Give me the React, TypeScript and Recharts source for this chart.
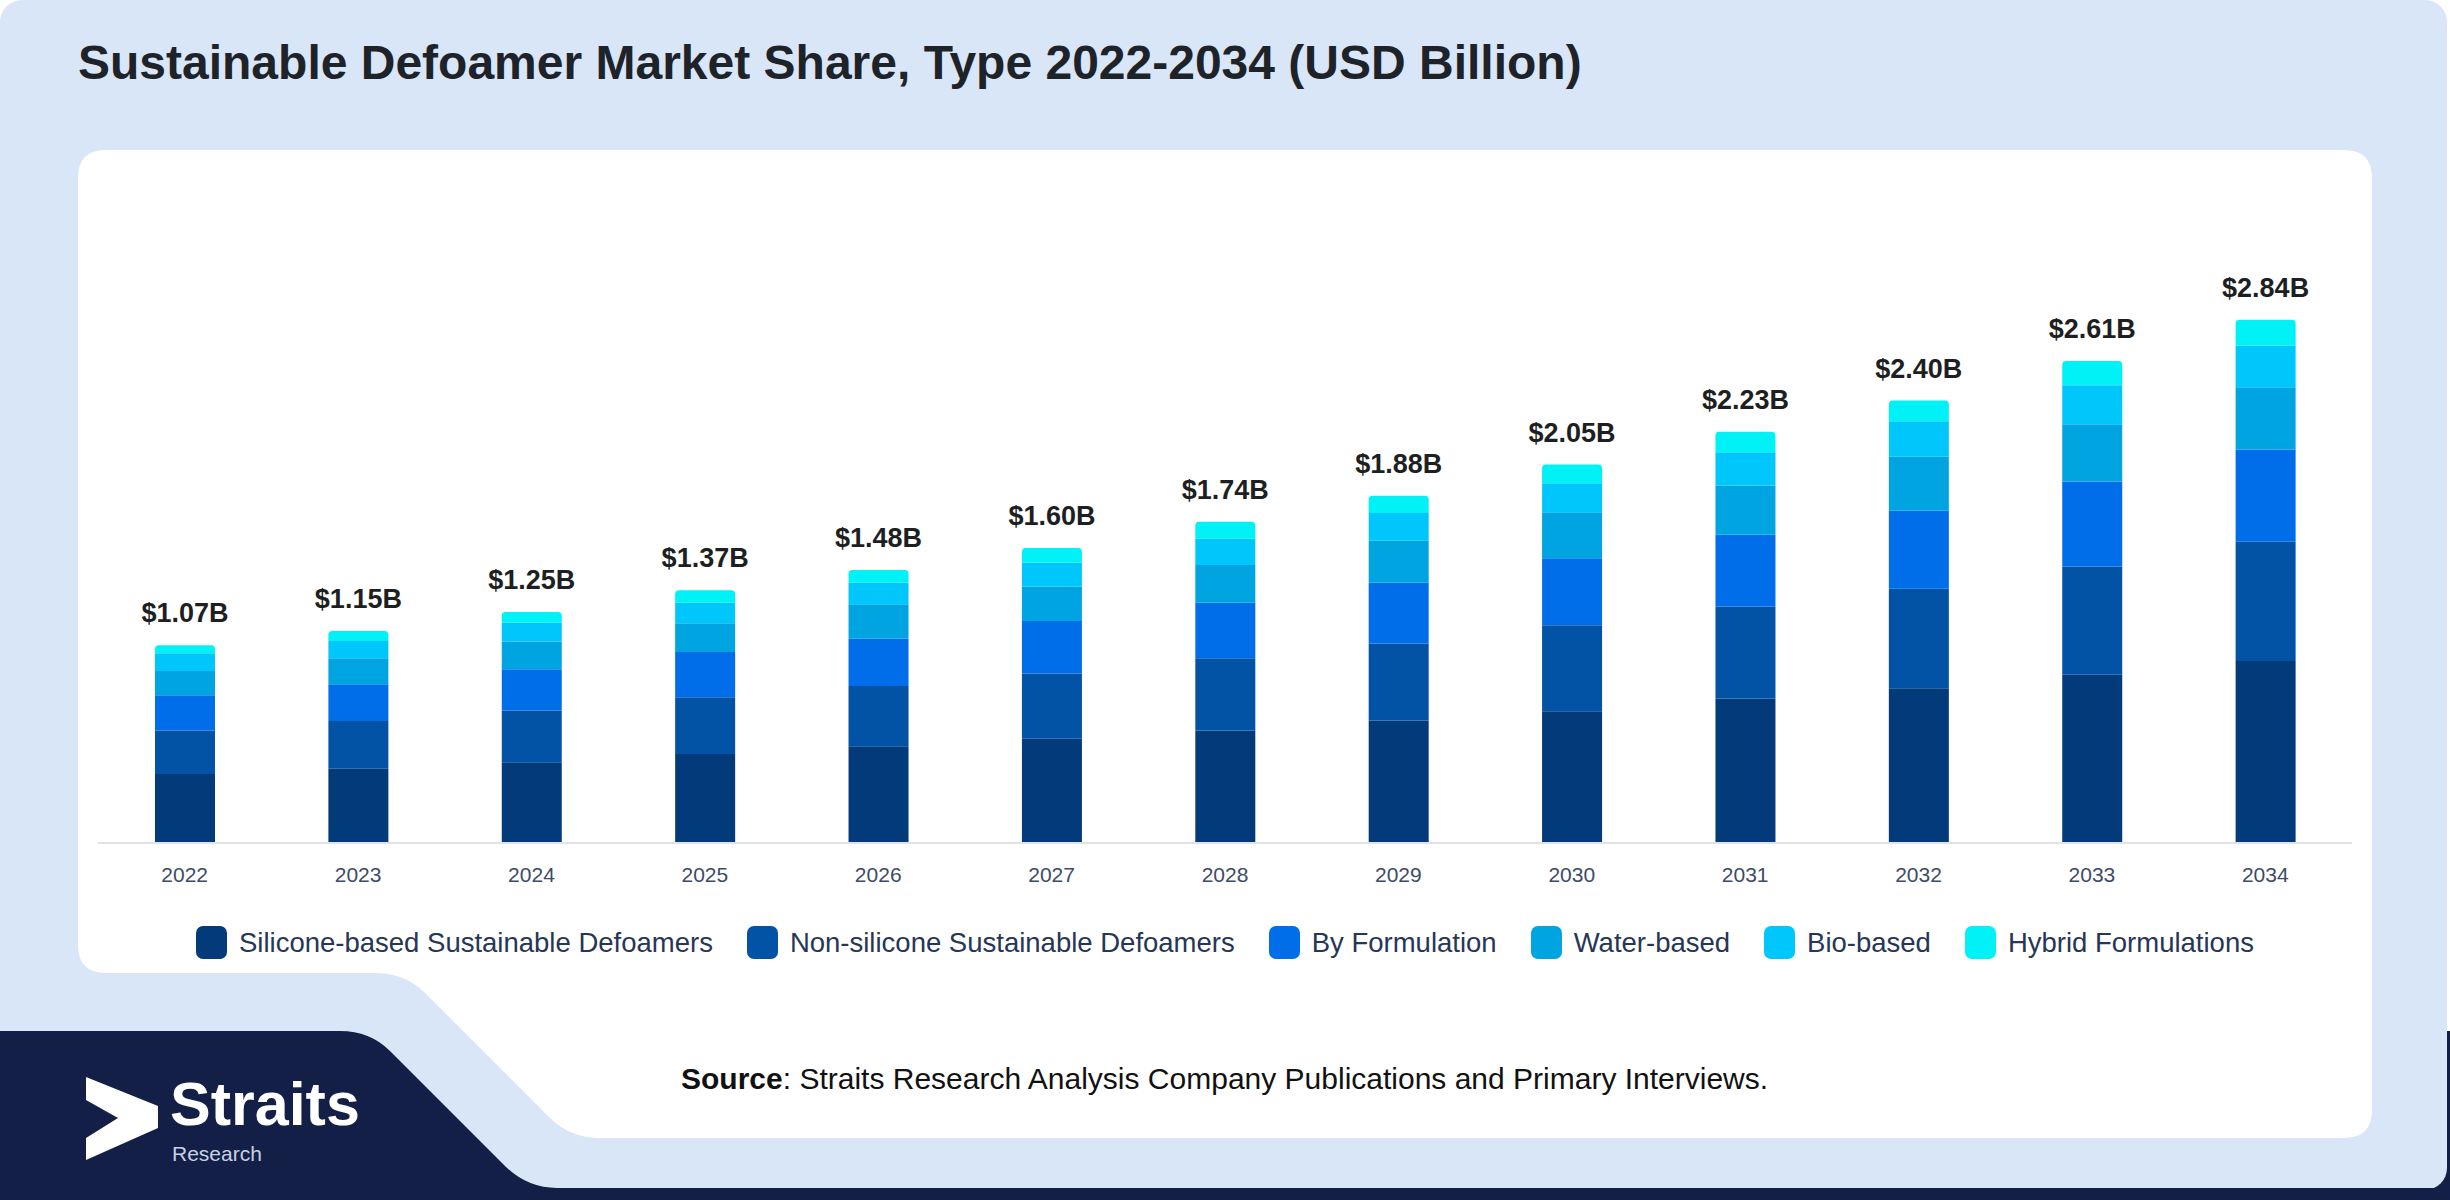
import React from 'react';
import { BarChart, Bar, XAxis, YAxis, Legend } from 'recharts';

const years = ['2022', '2023', '2024', '2025', '2026', '2027', '2028', '2029', '2030', '2031', '2032', '2033', '2034'];
const silicone = [0.375, 0.403, 0.439, 0.484, 0.526, 0.566, 0.611, 0.665, 0.716, 0.785, 0.840, 0.914, 0.989];
const nonSilicone = [0.236, 0.259, 0.281, 0.308, 0.326, 0.355, 0.393, 0.419, 0.466, 0.499, 0.541, 0.587, 0.647];
const byFormulation = [0.192, 0.200, 0.223, 0.245, 0.258, 0.285, 0.301, 0.330, 0.365, 0.390, 0.424, 0.462, 0.501];
const waterBased = [0.131, 0.141, 0.151, 0.156, 0.187, 0.187, 0.205, 0.227, 0.249, 0.267, 0.293, 0.311, 0.338];
const bioBased = [0.096, 0.094, 0.103, 0.113, 0.118, 0.131, 0.143, 0.151, 0.158, 0.181, 0.192, 0.212, 0.227];
const hybrid = [0.044, 0.054, 0.058, 0.067, 0.067, 0.078, 0.091, 0.094, 0.101, 0.112, 0.113, 0.131, 0.140];
const totals = [1.07, 1.15, 1.25, 1.37, 1.48, 1.60, 1.74, 1.88, 2.05, 2.23, 2.40, 2.61, 2.84];

const seriesNames = [
  'Silicone-based Sustainable Defoamers',
  'Non-silicone Sustainable Defoamers',
  'By Formulation',
  'Water-based',
  'Bio-based',
  'Hybrid Formulations',
];
const seriesKeys = ['silicone', 'nonSilicone', 'byFormulation', 'waterBased', 'bioBased', 'hybrid'];
const seriesColors = ['#033b7a', '#0253a5', '#006ee9', '#00a4e0', '#00c7fb', '#00f1f6'];

const data = years.map((y, i) => ({
  year: y,
  silicone: silicone[i],
  nonSilicone: nonSilicone[i],
  byFormulation: byFormulation[i],
  waterBased: waterBased[i],
  bioBased: bioBased[i],
  hybrid: hybrid[i],
  total: totals[i],
}));

const FONT = '"Liberation Sans", Arial, Helvetica, sans-serif';

const TotalLabel = (props: any) => {
  const { x, y, width, index } = props;
  return (
    <text
      x={x + width / 2}
      y={y - 23}
      textAnchor="middle"
      fontFamily={FONT}
      fontWeight="bold"
      fontSize={27}
      fill="#1d1f22"
    >
      {'$' + totals[index].toFixed(2) + 'B'}
    </text>
  );
};

const LegendContent = () => (
  <div
    style={{
      display: 'flex',
      justifyContent: 'center',
      alignItems: 'center',
      fontFamily: FONT,
      fontSize: 27.5,
      color: '#263656',
      whiteSpace: 'nowrap',
      height: 33,
    }}
  >
    {seriesNames.map((n, i) => (
      <div key={n} style={{ display: 'flex', alignItems: 'center', marginLeft: i === 0 ? 0 : 34 }}>
        <div
          style={{
            width: 31,
            height: 33,
            borderRadius: 7,
            background: seriesColors[i],
            marginRight: 12,
          }}
        />
        <span>{n}</span>
      </div>
    ))}
  </div>
);

export default function App() {
  return (
    <div
      style={{
        position: 'absolute',
        left: 0,
        top: 0,
        width: 2450,
        height: 1200,
        background: '#ffffff',
        overflow: 'hidden',
        fontFamily: FONT,
      }}
    >
      <svg width={2450} height={1200} style={{ position: 'absolute', left: 0, top: 0 }}>
        <rect x={0} y={1031} width={2450} height={169} fill="#131f47" />
        <rect x={0} y={0} width={2447} height={1190} rx={22} ry={22} fill="#d9e6f8" />
        <path
          d="M 106 150 H 2344 Q 2372 150 2372 178 V 1110 Q 2372 1138 2344 1138 H 600 Q 570 1138 550 1118 L 425 993 Q 405 973 375 973 H 106 Q 78 973 78 945 V 178 Q 78 150 106 150 Z"
          fill="#ffffff"
        />
        <path
          d="M 0 1031 H 340 Q 370 1031 390 1051 L 505 1166 Q 527 1188 557 1188 H 2450 V 1200 H 0 Z"
          fill="#131f47"
        />
        <polygon
          points="86,1077 158,1106 158,1128 86,1160 86,1138 118,1118 86,1100"
          fill="#ffffff"
        />
        <text x={170} y={1125} fontFamily={FONT} fontWeight="bold" fontSize={61} fill="#ffffff">
          Straits
        </text>
        <text x={172} y={1161} fontFamily={FONT} fontSize={21} fill="#c9d0e2">
          Research
        </text>
        <text x={78} y={79} fontFamily={FONT} fontWeight="bold" fontSize={48} fill="#1e2329">
          Sustainable Defoamer Market Share, Type 2022-2034 (USD Billion)
        </text>
        <text x={681} y={1089} fontFamily={FONT} fontSize={30} fill="#111111">
          <tspan fontWeight="bold">Source</tspan>
          <tspan>: Straits Research Analysis Company Publications and Primary Interviews.</tspan>
        </text>
      </svg>

      <div style={{ position: 'absolute', left: 98, top: 150, width: 2254, height: 850 }}>
        <BarChart
          width={2254}
          height={850}
          data={data}
          margin={{ top: 140.6, right: 0, bottom: 84, left: 0 }}
        >
          <XAxis
            dataKey="year"
            height={40}
            axisLine={{ stroke: '#dfe3e8', strokeWidth: 2 }}
            tickLine={false}
            tickMargin={18}
            tick={{ fill: '#3d4b66', fontSize: 21, fontFamily: FONT }}
          />
          <YAxis hide domain={[0, 3]} />
          <Legend
            content={<LegendContent />}
            wrapperStyle={{ top: 776, left: 0, width: 2254, height: 33 }}
          />
          {seriesKeys.map((k, i) => (
            <Bar
              key={k}
              dataKey={k}
              name={seriesNames[i]}
              stackId="a"
              fill={seriesColors[i]}
              barSize={60}
              isAnimationActive={false}
              radius={i === seriesKeys.length - 1 ? [4, 4, 0, 0] : 0}
              label={i === seriesKeys.length - 1 ? <TotalLabel /> : undefined}
            />
          ))}
        </BarChart>
      </div>
    </div>
  );
}
